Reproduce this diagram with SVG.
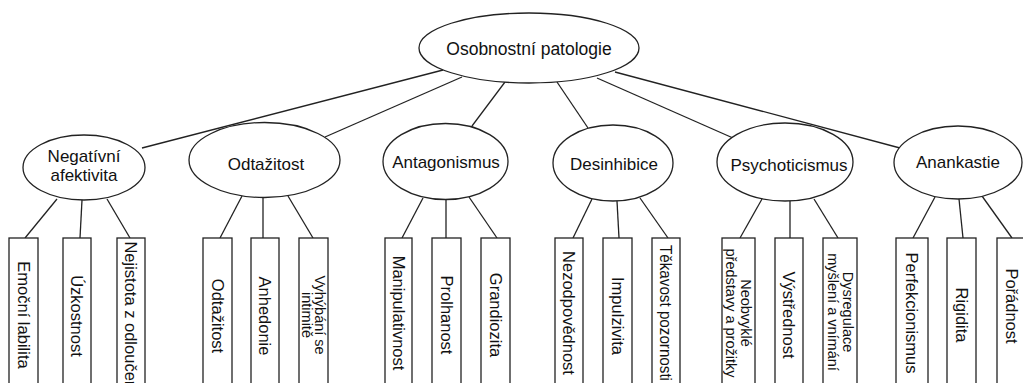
<svg xmlns="http://www.w3.org/2000/svg" width="1023" height="383" viewBox="0 0 1023 383">
<style>
.n{fill:#fff;stroke:#222;stroke-width:1.3}
.c line{stroke:#222;stroke-width:1.3}
text{font-family:"Liberation Sans",Arial,sans-serif;fill:#111}
.t{font-size:17px;text-anchor:middle}
.b{font-size:16.5px;text-anchor:middle;dominant-baseline:central}
.s{font-size:14.5px;text-anchor:middle;dominant-baseline:central}
</style>
<rect width="1023" height="383" fill="#fff"/>
<g class="c">
<line x1="443" y1="70" x2="142" y2="148"/>
<line x1="462" y1="77" x2="325" y2="137"/>
<line x1="505" y1="82" x2="472" y2="126"/>
<line x1="557" y1="82" x2="588" y2="128"/>
<line x1="597" y1="78" x2="733" y2="138"/>
<line x1="615" y1="72" x2="900" y2="148"/>
<line x1="57" y1="199" x2="25" y2="238"/>
<line x1="82" y1="200" x2="80" y2="238"/>
<line x1="107" y1="199" x2="130" y2="238"/>
<line x1="242" y1="196" x2="220" y2="238"/>
<line x1="263" y1="197.5" x2="263" y2="238"/>
<line x1="288" y1="196" x2="313" y2="238"/>
<line x1="423" y1="198" x2="402" y2="238"/>
<line x1="446" y1="199.5" x2="446" y2="238"/>
<line x1="469" y1="197" x2="497" y2="238"/>
<line x1="592" y1="199" x2="573" y2="238"/>
<line x1="617" y1="201" x2="619" y2="238"/>
<line x1="640" y1="198" x2="668" y2="238"/>
<line x1="762" y1="199" x2="740" y2="238"/>
<line x1="790" y1="201" x2="790" y2="238"/>
<line x1="814" y1="199" x2="838" y2="238"/>
<line x1="935" y1="197" x2="913" y2="238"/>
<line x1="959" y1="199" x2="963" y2="238"/>
<line x1="982" y1="196" x2="1012" y2="238"/>
</g>
<g id="root"><ellipse class="n" cx="529" cy="48" rx="110" ry="35"/><text class="t" x="529" y="55" style="font-size:17.5px">Osobnostní patologie</text></g>
<g id="negativni"><ellipse class="n" cx="84" cy="167.5" rx="61" ry="32.5"/><text class="t" x="84" y="162">Negatívní</text><text class="t" x="84" y="181">afektivita</text></g>
<g id="odtazitost"><ellipse class="n" cx="264.5" cy="160" rx="75.5" ry="37.5"/><text class="t" x="266" y="170">Odtažitost</text></g>
<g id="antagonismus"><ellipse class="n" cx="445.5" cy="161.5" rx="62.5" ry="38"/><text class="t" x="446" y="168">Antagonismus</text></g>
<g id="desinhibice"><ellipse class="n" cx="613" cy="163" rx="60" ry="38"/><text class="t" x="614" y="170">Desinhibice</text></g>
<g id="psychoticismus"><ellipse class="n" cx="785" cy="162" rx="68" ry="39"/><text class="t" x="789" y="171">Psychoticismus</text></g>
<g id="anankastie"><ellipse class="n" cx="958" cy="162.5" rx="64" ry="36.5"/><text class="t" x="958" y="168">Anankastie</text></g>
<g id="b1"><rect class="n" x="9" y="238" width="29" height="160"/><text class="b" transform="translate(23.5,315) rotate(90)">Emoční labilita</text></g>
<g id="b2"><rect class="n" x="63" y="238" width="28" height="160"/><text class="b" transform="translate(77,316) rotate(90)">Úzkostnost</text></g>
<g id="b3"><rect class="n" x="117" y="238" width="28" height="160"/><text class="b" transform="translate(131,318) rotate(90)">Nejistota z odloučení</text></g>
<g id="b4"><rect class="n" x="203" y="238" width="29" height="160"/><text class="b" transform="translate(217.5,316) rotate(90)">Odtažitost</text></g>
<g id="b5"><rect class="n" x="251" y="238" width="28" height="160"/><text class="b" transform="translate(265,316) rotate(90)">Anhedonie</text></g>
<g id="b6"><rect class="n" x="299" y="238" width="29" height="160"/><text class="s" transform="translate(313.5,315) rotate(90)"><tspan x="0" y="-6.5">Vyhýbání se</tspan><tspan x="0" y="6.5">intimitě</tspan></text></g>
<g id="b7"><rect class="n" x="385" y="238" width="27" height="160"/><text class="b" transform="translate(398.5,313) rotate(90)">Manipulativnost</text></g>
<g id="b8"><rect class="n" x="432" y="238" width="29" height="160"/><text class="b" transform="translate(446.5,315) rotate(90)">Prolhanost</text></g>
<g id="b9"><rect class="n" x="481" y="238" width="29" height="160"/><text class="b" transform="translate(495.5,315) rotate(90)">Grandiozita</text></g>
<g id="b10"><rect class="n" x="555" y="238" width="28" height="160"/><text class="b" transform="translate(569,313) rotate(90)">Nezodpovědnost</text></g>
<g id="b11"><rect class="n" x="603" y="238" width="29" height="160"/><text class="b" transform="translate(617.5,316) rotate(90)">Impulzivita</text></g>
<g id="b12"><rect class="n" x="652" y="238" width="28" height="160"/><text class="b" transform="translate(666,313) rotate(90)" textLength="136" lengthAdjust="spacingAndGlyphs">Těkavost pozornosti</text></g>
<g id="b13"><rect class="n" x="722" y="238" width="33" height="160"/><text class="s" transform="translate(738.5,313) rotate(90)"><tspan x="0" y="-7.5">Neobvyklé</tspan><tspan x="0" y="7.5">představy a prožitky</tspan></text></g>
<g id="b14"><rect class="n" x="775" y="238" width="28" height="160"/><text class="b" transform="translate(789,315) rotate(90)">Výstřednost</text></g>
<g id="b15"><rect class="n" x="823" y="238" width="34" height="160"/><text class="s" transform="translate(840,312) rotate(90)"><tspan x="0" y="-7.5">Dysregulace</tspan><tspan x="0" y="7.5">myšlení a vnímání</tspan></text></g>
<g id="b16"><rect class="n" x="896" y="238" width="32" height="160"/><text class="b" transform="translate(912,313) rotate(90)">Perfekcionismus</text></g>
<g id="b17"><rect class="n" x="947" y="238" width="29" height="160"/><text class="b" transform="translate(961.5,315) rotate(90)">Rigidita</text></g>
<g id="b18"><rect class="n" x="997" y="238" width="29" height="160"/><text class="b" transform="translate(1011.5,306) rotate(90)">Pořádnost</text></g>
</svg>
